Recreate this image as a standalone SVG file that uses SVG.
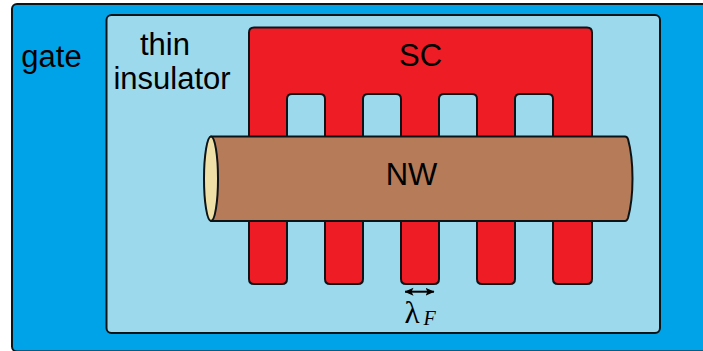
<svg xmlns="http://www.w3.org/2000/svg" width="703" height="351" viewBox="0 0 703 351">
<style>
.s{stroke:#0d1418;stroke-width:2;stroke-linejoin:round}
.t{font-family:"Liberation Sans",Arial,sans-serif;font-size:31px;fill:#000;text-anchor:middle}
</style>
<defs>
<marker id="a" viewBox="0 0 9 9" refX="8.500" refY="4.500" markerWidth="9" markerHeight="9" markerUnits="userSpaceOnUse" orient="auto-start-reverse"><path d="M0 0.500L9 4.500L0 8.500L2 4.500z" fill="#000"/></marker>
</defs>
<rect width="703" height="351" fill="#fff"/>
<g id="gate">
<rect class="s" x="12" y="4" width="720" height="347.500" rx="5" fill="#00a3e8"/>
<text class="t" x="51.500" y="67">gate</text>
</g>
<g id="insulator">
<rect class="s" x="106.500" y="15" width="553.500" height="318" rx="5" fill="#9cd9ec"/>
<text class="t" x="165" y="55">thin</text>
<text class="t" x="172" y="89">insulator</text>
</g>
<g id="sc">
<path class="s" fill="#ee1d25" d="M254 27.500H587Q592 27.500 592 32.500V279Q592 284 587 284H558Q553 284 553 279V180H515V279Q515 284 510 284H482Q477 284 477 279V180H439V279Q439 284 434 284H406Q401 284 401 279V180H363V279Q363 284 358 284H330Q325 284 325 279V180H287V279Q287 284 282 284H254Q249 284 249 279V32.500Q249 27.500 254 27.500Z"/>
<path class="s" fill="#9cd9ec" d="M287 180V99Q287 94 292 94H320Q325 94 325 99V180ZM363 180V99Q363 94 368 94H396Q401 94 401 99V180ZM439 180V99Q439 94 444 94H472Q477 94 477 99V180ZM515 180V99Q515 94 520 94H548Q553 94 553 99V180Z"/>
<text class="t" x="420.500" y="66">SC</text>
</g>
<g id="nw">
<path class="s" fill="#b67b58" d="M211 136.500H625Q627 136.500 628 139C631 150 632.500 165 632.500 178.500C632.500 192 631 207 628 218Q627 221 625 221H211Z"/>
<ellipse class="s" cx="211" cy="178.700" rx="7" ry="42.300" fill="#efe0a8"/>
<text class="t" x="411.500" y="185">NW</text>
</g>
<g id="connectors">
<line x1="405" y1="291.700" x2="434" y2="291.700" stroke="#000" stroke-width="2" marker-start="url(#a)" marker-end="url(#a)"/>
</g>
<g id="lambda-label">
<text x="404.500" y="322.500" font-family="'Liberation Serif',serif" font-size="31">λ</text>
<text x="423.500" y="325" font-family="'Liberation Serif',serif" font-size="20" font-style="italic">F</text>
</g>
</svg>
